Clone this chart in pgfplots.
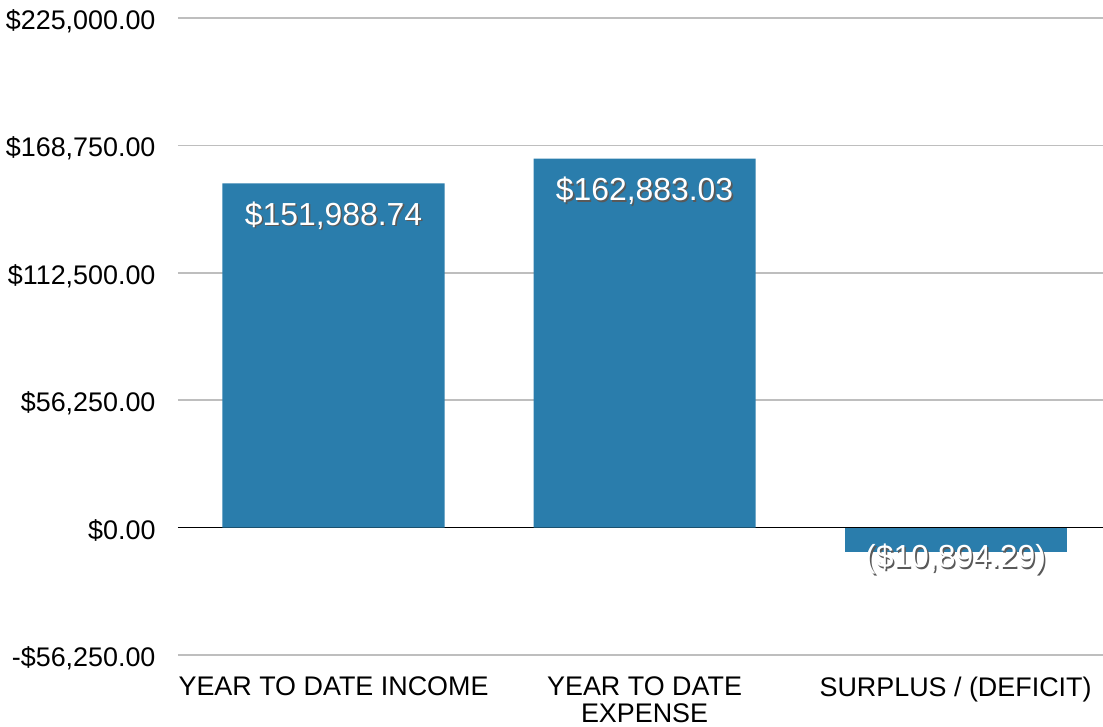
\documentclass[border=0pt]{standalone}
\usepackage{pgfplots}
\pgfplotsset{compat=1.18}
\usepackage{fontspec}
\setmainfont{Liberation Sans}
\definecolor{barblue}{RGB}{42,125,172}
\definecolor{gridgray}{RGB}{190,190,190}
\newcommand{\shtxt}[1]{\makebox[0pt][l]{\hspace{1.6bp}\raisebox{-1.6bp}{\textcolor{black!65}{#1}}}\textcolor{white}{#1}}
\begin{document}
\begin{tikzpicture}
\begin{axis}[
  name=ax,
  scale only axis,
  width=925bp, height=637bp,
  xmin=-0.5, xmax=2.474,
  ymin=-56250, ymax=225000,
  scaled y ticks=false,
  xtick={0,1,2},
  xticklabels={YEAR TO DATE INCOME, {YEAR TO DATE\\EXPENSE}, SURPLUS / (DEFICIT)},
  xticklabel style={align=center, font=\fontsize{27}{27}\selectfont, yshift=-14bp},
  ytick={-56250,0,56250,112500,168750,225000},
  yticklabels={{-\$56,250.00},{\$0.00},{\$56,250.00},{\$112,500.00},{\$168,750.00},{\$225,000.00}},
  yticklabel style={font=\fontsize{27}{27}\selectfont, xshift=-19bp, yshift=-3bp},
  ymajorgrids,
  grid style={gridgray, line width=1.6bp},
  extra y ticks={0},
  extra y tick labels={},
  extra y tick style={grid style={black, line width=1.6bp}},
  axis line style={draw=none},
  tick style={draw=none},
  clip=false,
  ybar,
  bar width=0.714,
  bar shift=0pt,
  point meta=explicit symbolic,
  nodes near coords={\shtxt{\pgfplotspointmeta}},
]
\addplot[fill=barblue, draw=none,
  every node near coord/.append style={anchor=center, yshift=-33bp, font=\fontsize{32}{32}\selectfont}]
  coordinates {(0,151988.74) [\$151,988.74] (1,162883.03) [\$162,883.03]};
\addplot[fill=barblue, draw=none,
  every node near coord/.append style={anchor=center, yshift=-8bp, font=\fontsize{32}{32}\selectfont}]
  coordinates {(2,-10894.29) [(\$10,894.29)]};
\end{axis}
\pgfresetboundingbox
\path ([xshift=-178bp,yshift=-72bp]ax.south west) rectangle ([yshift=18bp]ax.north east);
\end{tikzpicture}
\end{document}
